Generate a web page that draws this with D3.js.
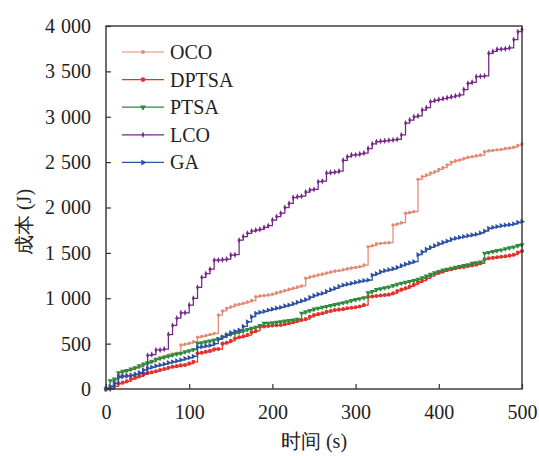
<!DOCTYPE html>
<html>
<head>
<meta charset="utf-8">
<script src="https://cdn.jsdelivr.net/npm/d3@7"></script>
<style>
	html, body { margin: 0; padding: 0; background: #fff; }
	#outer { width: 539px; height: 456px; }
</style>
</head>
<body>
<div id="outer"></div>
<script>
////////// Data (one value every 5 s) //////////
const timeStep = 5;
const xTicks = [0, 100, 200, 300, 400, 500];
const yTicks = [0, 500, 1000, 1500, 2000, 2500, 3000, 3500, 4000];
const seriesNames = ['OCO', 'DPTSA', 'PTSA', 'LCO', 'GA'];

const ocoValues = [0, 20, 90, 150, 190, 200, 215, 230, 245, 265, 285, 300, 330, 345, 360, 375, 385, 395, 485, 495,
	505, 520, 570, 580, 590, 600, 613, 815, 860, 890, 905, 925, 935, 945, 960, 975, 1017, 1025, 1030, 1036,
	1045, 1060, 1072, 1085, 1100, 1110, 1125, 1135, 1220, 1235, 1245, 1258, 1267, 1280, 1290, 1300, 1305, 1315, 1325, 1335,
	1340, 1348, 1366, 1568, 1580, 1600, 1605, 1610, 1612, 1807, 1820, 1833, 1936, 1945, 1954, 2310, 2340, 2358, 2380, 2395,
	2420, 2440, 2470, 2500, 2515, 2525, 2540, 2555, 2560, 2570, 2578, 2615, 2625, 2630, 2635, 2640, 2650, 2655, 2665, 2685, 2700];

const dptsaValues = [0, 10, 30, 60, 70, 85, 110, 125, 140, 160, 175, 185, 195, 210, 220, 235, 245, 252, 260, 265,
	280, 300, 393, 400, 410, 420, 437, 440, 500, 510, 530, 558, 570, 580, 595, 625, 640, 686, 690, 695,
	700, 702, 705, 715, 725, 735, 750, 760, 770, 795, 815, 825, 835, 850, 860, 870, 875, 880, 889, 895,
	900, 910, 925, 1017, 1020, 1025, 1030, 1035, 1040, 1055, 1080, 1095, 1110, 1130, 1150, 1175, 1193, 1220, 1245, 1267,
	1280, 1295, 1310, 1319, 1330, 1340, 1345, 1355, 1362, 1370, 1385, 1429, 1440, 1445, 1452, 1458, 1462, 1470, 1480, 1505, 1520];

const ptsaValues = [0, 90, 110, 180, 195, 205, 220, 235, 255, 275, 290, 305, 325, 338, 350, 360, 375, 385, 395, 410,
	420, 435, 503, 510, 520, 530, 540, 550, 570, 590, 605, 613, 625, 640, 655, 668, 680, 700, 724, 725,
	730, 735, 740, 748, 755, 760, 768, 834, 850, 865, 880, 889, 900, 910, 920, 930, 940, 950, 960, 975,
	985, 995, 1005, 1060, 1075, 1095, 1105, 1115, 1125, 1140, 1155, 1165, 1175, 1185, 1195, 1209, 1225, 1245, 1265, 1282,
	1295, 1310, 1320, 1330, 1340, 1350, 1360, 1370, 1385, 1390, 1400, 1495, 1505, 1515, 1525, 1532, 1545, 1555, 1565, 1580, 1590];

const lcoValues = [0, 0, 60, 130, 140, 145, 150, 160, 170, 175, 370, 380, 430, 430, 440, 600, 700, 780, 840, 840,
	925, 1000, 1120, 1230, 1270, 1320, 1420, 1420, 1425, 1430, 1476, 1480, 1640, 1680, 1715, 1740, 1750, 1760, 1780, 1800,
	1862, 1900, 1937, 2000, 2046, 2110, 2119, 2125, 2170, 2193, 2200, 2285, 2290, 2380, 2385, 2390, 2400, 2520, 2560, 2578,
	2580, 2590, 2600, 2650, 2700, 2725, 2730, 2735, 2740, 2745, 2751, 2800, 2930, 2964, 3000, 3010, 3074, 3100, 3166, 3180,
	3190, 3200, 3210, 3220, 3230, 3240, 3300, 3368, 3380, 3441, 3445, 3450, 3699, 3720, 3743, 3745, 3750, 3760, 3850, 3937, 3963];

const gaValues = [0, 30, 63, 135, 140, 145, 150, 160, 180, 210, 228, 240, 255, 265, 275, 290, 300, 310, 320, 335,
	345, 360, 459, 465, 475, 480, 500, 550, 575, 600, 620, 635, 650, 690, 740, 797, 834, 845, 855, 870,
	880, 890, 900, 915, 925, 940, 955, 970, 985, 1010, 1030, 1045, 1054, 1075, 1095, 1110, 1130, 1145, 1155, 1165,
	1175, 1185, 1195, 1201, 1256, 1270, 1293, 1305, 1315, 1325, 1340, 1360, 1375, 1390, 1403, 1480, 1510, 1540, 1560, 1580,
	1600, 1615, 1630, 1650, 1660, 1670, 1680, 1690, 1697, 1705, 1720, 1740, 1771, 1780, 1790, 1800, 1805, 1810, 1820, 1835, 1845];


function drawCostChart () {

	////////// Hard Coded Defs //////////
	const width = 539;
	const height = 456;
	const plot = {left: 106, right: 522, top: 26, bottom: 389};
	const fontFamily = 'Liberation Serif';
	const tickFontSize = 20;
	const titleFontSize = 20;
	const frameColor = '#333333';
	const textColor = '#222222';
	const tickLength = 5;
	const thousandsGap = 6;

	const seriesStyles = {
		OCO: {color: '#e38a72', marker: 'circle', size: 9},
		DPTSA: {color: '#e3312b', marker: 'circle', size: 13},
		PTSA: {color: '#2f8a3b', marker: 'triangleDown', size: 12},
		LCO: {color: '#76278a', marker: 'diamond', size: 12},
		GA: {color: '#2c52a5', marker: 'triangleRight', size: 12}
	};
	const seriesValues = {OCO: ocoValues, DPTSA: dptsaValues, PTSA: ptsaValues, LCO: lcoValues, GA: gaValues};


	////////////////////////////////////////////////////////////////
		// Scales
	////////////////////////////////////////////////////////////////
	const x = d3.scaleLinear().domain([0, 500]).range([plot.left, plot.right]);
	const y = d3.scaleLinear().domain([0, 4000]).range([plot.bottom, plot.top]);

	const markerPath = (kind, size) => {
		if (kind === 'circle') return d3.symbol().type(d3.symbolCircle).size(size)();
		if (kind === 'diamond') return 'M0,-3.2L1.4,0L0,3.2L-1.4,0Z';
		return d3.symbol().type(d3.symbolTriangle).size(size)();
	};
	const markerRotate = kind => kind === 'triangleDown' ? 180 : kind === 'triangleRight' ? 90 : 0;


	////////////////////////////////////////////////////////////////
		// Draw
	////////////////////////////////////////////////////////////////
	const svg = d3.select('#outer').append('svg')
		.attr('width', width)
		.attr('height', height)
		.style('display', 'block');

	// ---- series ---- //
	const lineGen = d3.line()
		.x((d, i) => x(i * timeStep))
		.y(d => y(d))
		.curve(d3.curveStepAfter);

	seriesNames.forEach(name => {
		const style = seriesStyles[name];
		const values = seriesValues[name];
		const g = svg.append('g').attr('class', 'series-' + name);
		g.append('path')
			.datum(values)
			.attr('d', lineGen)
			.attr('fill', 'none')
			.attr('stroke', style.color)
			.attr('stroke-width', 1.25);
		g.selectAll('path.marker')
			.data(values)
			.join('path')
			.attr('class', 'marker')
			.attr('d', markerPath(style.marker, style.size))
			.attr('transform', (d, i) => `translate(${x(i * timeStep)},${y(d)}) rotate(${markerRotate(style.marker)})`)
			.attr('fill', style.color);
	});

	// ---- axes ---- //
	const xAxis = svg.append('g')
		.attr('transform', `translate(0,${plot.bottom})`)
		.call(d3.axisBottom(x).tickValues(xTicks).tickSizeInner(-tickLength).tickSizeOuter(0).tickPadding(16));
	const yAxis = svg.append('g')
		.attr('transform', `translate(${plot.left},0)`)
		.call(d3.axisLeft(y).tickValues(yTicks).tickSizeInner(-tickLength).tickSizeOuter(0).tickPadding(15));

	[xAxis, yAxis].forEach(ax => {
		ax.select('.domain').remove();
		ax.selectAll('line').attr('stroke', frameColor).attr('stroke-width', 1.2);
		ax.selectAll('text')
			.attr('font-family', fontFamily)
			.attr('font-size', tickFontSize)
			.attr('fill', textColor);
	});

	// "4 000" style labels: thousands part, a gap, then the rest
	yAxis.selectAll('.tick text').each(function (d) {
		if (d < 1000) return;
		const t = d3.select(this).text('');
		t.append('tspan').text(Math.floor(d / 1000));
		t.append('tspan').attr('dx', thousandsGap).text(d3.format('03d')(d % 1000));
	});

	svg.append('rect')
		.attr('x', plot.left)
		.attr('y', plot.top)
		.attr('width', plot.right - plot.left)
		.attr('height', plot.bottom - plot.top)
		.attr('fill', 'none')
		.attr('stroke', frameColor)
		.attr('stroke-width', 1.4);

	// ---- titles ---- //
	svg.append('text')
		.attr('x', (plot.left + plot.right) / 2)
		.attr('y', 448)
		.attr('text-anchor', 'middle')
		.attr('font-family', fontFamily)
		.attr('font-size', titleFontSize)
		.attr('fill', textColor)
		.text('时间 (s)');
	svg.append('text')
		.attr('transform', 'translate(31,222) rotate(-90)')
		.attr('text-anchor', 'middle')
		.attr('font-family', fontFamily)
		.attr('font-size', titleFontSize)
		.attr('fill', textColor)
		.text('成本 (J)');

	// ---- legend ---- //
	const legend = svg.append('g').attr('class', 'legend')
		.attr('transform', 'translate(122,52)');
	seriesNames.forEach((name, i) => {
		const style = seriesStyles[name];
		const row = legend.append('g').attr('transform', `translate(0,${i * 27.6})`);
		row.append('line')
			.attr('x1', 0).attr('x2', 42)
			.attr('stroke', style.color)
			.attr('stroke-width', 1.2);
		row.append('path')
			.attr('d', markerPath(style.marker, style.size * 1.3))
			.attr('transform', `translate(21,0) rotate(${markerRotate(style.marker)})`)
			.attr('fill', style.color);
		row.append('text')
			.attr('x', 48)
			.attr('y', 7)
			.attr('font-family', fontFamily)
			.attr('font-size', tickFontSize)
			.attr('fill', textColor)
			.text(name);
	});
}

drawCostChart();
</script>
</body>
</html>
